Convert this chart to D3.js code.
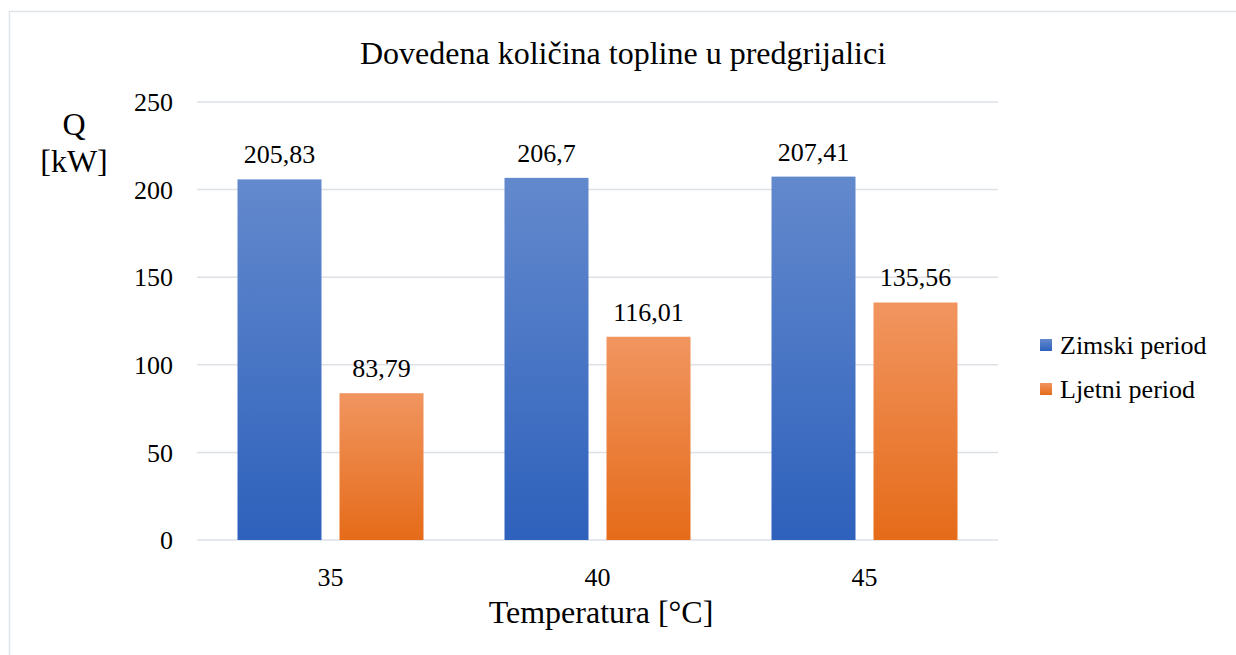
<!DOCTYPE html>
<html>
<head>
<meta charset="utf-8">
<script src="https://cdn.jsdelivr.net/npm/d3@7"></script>
<style>
  body { margin: 0; background: #fff; }
  svg text { font-family: "Liberation Serif", "Times New Roman", serif; fill: #000; }
</style>
</head>
<body>
<div id="chart"></div>
<script>
const categories = ["35", "40", "45"];
const seriesNames = ["Zimski period", "Ljetni period"];
const zimski = [205.83, 206.7, 207.41];
const ljetni = [83.79, 116.01, 135.56];
const yTicks = [0, 50, 100, 150, 200, 250];

const width = 1236, height = 655;
const plot = { left: 197, right: 998, top: 102, bottom: 540 };
const font = "Liberation Serif, Times New Roman, serif";

const svg = d3.select("#chart").append("svg")
    .attr("width", width)
    .attr("height", height)
    .attr("font-family", font);

// gradients for the bars
const defs = svg.append("defs");
const grads = [["gBlue", "#6389cd", "#2e61bc"], ["gOrange", "#f19560", "#e56b19"]];
for (let [id, top, bot] of grads) {
    let g = defs.append("linearGradient").attr("id", id)
        .attr("x1", 0).attr("y1", 0).attr("x2", 0).attr("y2", 1);
    g.append("stop").attr("offset", "0%").attr("stop-color", top);
    g.append("stop").attr("offset", "100%").attr("stop-color", bot);
}

// outer frame
svg.append("rect")
    .attr("x", 9.5).attr("y", 11.5)
    .attr("width", width).attr("height", height)
    .attr("fill", "none")
    .attr("stroke", "#dfe3e8")
    .attr("stroke-width", 1.5);

let x = d3.scaleBand()
    .domain(categories)
    .range([plot.left, plot.right]);

let y = d3.scaleLinear()
    .domain([0, 250])
    .range([plot.bottom, plot.top]);

let barW = 84, gap = 18;
let x1 = d3.scaleOrdinal()
    .domain(seriesNames)
    .range([-(barW + gap / 2), gap / 2]);

// gridlines
svg.append("g")
  .selectAll("line")
  .data(yTicks)
  .join("line")
    .attr("x1", plot.left).attr("x2", plot.right)
    .attr("y1", d => y(d)).attr("y2", d => y(d))
    .attr("stroke", "#dde1e6")
    .attr("stroke-width", 1.5);

// y tick labels
svg.append("g")
  .selectAll("text")
  .data(yTicks)
  .join("text")
    .attr("x", 173)
    .attr("y", d => y(d))
    .attr("dy", "0.35em")
    .attr("text-anchor", "end")
    .attr("font-size", 26)
    .text(d => d);

// x tick labels
svg.append("g")
  .selectAll("text")
  .data(categories)
  .join("text")
    .attr("x", d => x(d) + x.bandwidth() / 2)
    .attr("y", 586)
    .attr("text-anchor", "middle")
    .attr("font-size", 26)
    .text(d => d);

const series = [
    { name: seriesNames[0], values: zimski, fill: "url(#gBlue)" },
    { name: seriesNames[1], values: ljetni, fill: "url(#gOrange)" }
];

for (let s of series) {
    let data = categories.map((c, i) => ({ c, v: s.values[i] }));
    svg.append("g")
      .selectAll("rect")
      .data(data)
      .join("rect")
        .attr("x", d => x(d.c) + x.bandwidth() / 2 + x1(s.name))
        .attr("y", d => y(d.v))
        .attr("width", barW)
        .attr("height", d => y(0) - y(d.v))
        .attr("fill", s.fill);

    svg.append("g")
      .selectAll("text")
      .data(data)
      .join("text")
        .attr("x", d => x(d.c) + x.bandwidth() / 2 + x1(s.name) + barW / 2)
        .attr("y", d => y(d.v) - 16)
        .attr("text-anchor", "middle")
        .attr("font-size", 26)
        .text(d => String(d.v).replace(".", ","));
}

// title
svg.append("text")
    .attr("x", 623).attr("y", 64)
    .attr("text-anchor", "middle")
    .attr("font-size", 32)
    .text("Dovedena količina topline u predgrijalici");

// axis titles
svg.append("text")
    .attr("x", 601).attr("y", 623)
    .attr("text-anchor", "middle")
    .attr("font-size", 32)
    .text("Temperatura [°C]");

svg.append("text")
    .attr("x", 74).attr("y", 135)
    .attr("text-anchor", "middle")
    .attr("font-size", 32)
    .text("Q");
svg.append("text")
    .attr("x", 74).attr("y", 172)
    .attr("text-anchor", "middle")
    .attr("font-size", 32)
    .text("[kW]");

// legend
let legend = svg.append("g")
  .selectAll("g")
  .data(series)
  .join("g")
    .attr("transform", (d, i) => `translate(1040,${345 + i * 44})`);

legend.append("rect")
    .attr("x", 0).attr("y", -6)
    .attr("width", 12).attr("height", 12)
    .attr("fill", d => d.fill);

legend.append("text")
    .attr("x", 20)
    .attr("dy", "0.35em")
    .attr("font-size", 26)
    .text(d => d.name);
</script>
</body>
</html>
